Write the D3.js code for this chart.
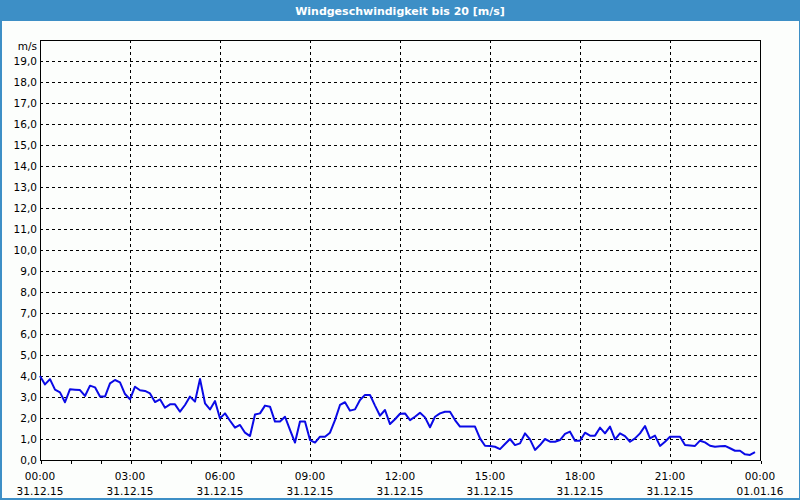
<!DOCTYPE html>
<html><head><meta charset="utf-8">
<script src="https://cdn.jsdelivr.net/npm/d3@7"></script>
<style>
html,body{margin:0;padding:0;background:#fcfefc;}
svg{display:block;}
text{font-family:"DejaVu Sans","Liberation Sans",sans-serif;}
</style></head>
<body>
<script>
const title = "Windgeschwindigkeit bis 20 [m/s]";
const unitLabel = "m/s";
const startTime = "2015-12-31T00:00:00";
const endTime = "2016-01-01T00:00:00";
const stepMinutes = 10;
// wind speed, m/s, every 10 minutes from 31.12.15 00:00
const speeds = [
 4.0,3.6,3.85,3.35,3.22,2.75,3.37,3.35,3.33,3.05,3.54,3.46,
 3.02,3.02,3.65,3.81,3.70,3.14,2.89,3.49,3.32,3.29,3.17,2.76,
 2.89,2.49,2.65,2.65,2.30,2.62,3.02,2.78,3.86,2.70,2.41,2.81,
 1.98,2.22,1.87,1.54,1.67,1.30,1.14,2.17,2.22,2.59,2.54,1.83,
 1.83,2.06,1.43,0.83,1.83,1.83,0.95,0.83,1.11,1.11,1.30,1.90,
 2.62,2.75,2.35,2.41,2.86,3.10,3.10,2.59,2.11,2.38,1.71,1.94,
 2.20,2.22,1.90,2.06,2.25,2.03,1.56,2.06,2.22,2.30,2.30,1.90,
 1.59,1.59,1.59,1.59,1.03,0.68,0.67,0.63,0.52,0.76,1.0,0.71,
 0.79,1.27,0.98,0.48,0.71,1.0,0.87,0.87,0.95,1.24,1.35,0.92,
 0.92,1.30,1.16,1.16,1.54,1.27,1.59,0.98,1.27,1.14,0.87,1.03,
 1.27,1.62,1.03,1.16,0.67,0.87,1.11,1.11,1.11,0.71,0.69,0.67,
 0.92,0.84,0.68,0.63,0.65,0.67,0.56,0.44,0.44,0.27,0.24,0.37
];
const yTicks = [0,1,2,3,4,5,6,7,8,9,10,11,12,13,14,15,16,17,18,19];
const xTickHours = [0,3,6,9,12,15,18,21,24];

const W = 800, H = 500;
const m = {left:40, right:40, top:40, bottom:40};
const svg = d3.select("body").append("svg").attr("width",W).attr("height",H);

svg.append("rect").attr("x",0).attr("y",0).attr("width",W).attr("height",H).attr("fill","#fcfefc");
// title bar
svg.append("rect").attr("x",0).attr("y",0).attr("width",W).attr("height",21).attr("fill","#3d8fc6");
svg.append("text").attr("x",W/2).attr("y",15).attr("text-anchor","middle")
  .attr("fill","#ffffff").attr("font-size","11px").attr("font-weight","bold")
  .attr("font-family","'Liberation Sans',sans-serif").text(title);
// frame border
svg.append("rect").attr("x",0.5).attr("y",0.5).attr("width",W-1).attr("height",H-1)
  .attr("fill","none").attr("stroke","#3d8fc6").attr("stroke-width",1);
svg.append("line").attr("x1",1.5).attr("x2",1.5).attr("y1",0).attr("y2",H).attr("stroke","#3d8fc6");
svg.append("line").attr("x1",0).attr("x2",W).attr("y1",H-1.5).attr("y2",H-1.5).attr("stroke","#3d8fc6");

const t0 = new Date(startTime), t1 = new Date(endTime);
const x = d3.scaleTime().domain([t0,t1]).range([m.left, W-m.right]);
const y = d3.scaleLinear().domain([0,20]).range([H-m.bottom, m.top]);

const data = speeds.map((v,i)=>({t:new Date(t0.getTime()+i*stepMinutes*60000), v}));
const g = svg.append("g");

// horizontal grid
g.selectAll("line.hg").data(yTicks.filter(d=>d>0)).join("line")
  .attr("x1",m.left).attr("x2",W-m.right)
  .attr("y1",d=>Math.round(y(d))+0.5).attr("y2",d=>Math.round(y(d))+0.5)
  .attr("stroke","#000").attr("stroke-dasharray","3,3").attr("shape-rendering","crispEdges");
// vertical grid
const xTickDates = xTickHours.map(h=>new Date(t0.getTime()+h*3600000));
g.selectAll("line.vg").data(xTickDates.slice(1,-1)).join("line")
  .attr("x1",d=>Math.round(x(d))+0.5).attr("x2",d=>Math.round(x(d))+0.5)
  .attr("y1",m.top).attr("y2",H-m.bottom)
  .attr("stroke","#000").attr("stroke-dasharray","3,3").attr("shape-rendering","crispEdges");

// plot frame
svg.append("rect").attr("x",m.left+0.5).attr("y",m.top+0.5)
  .attr("width",W-m.left-m.right).attr("height",H-m.top-m.bottom)
  .attr("fill","none").attr("stroke","#000").attr("shape-rendering","crispEdges");

// x axis hourly ticks
const xAxis = d3.axisBottom(x).ticks(d3.timeHour.every(1)).tickSize(3).tickFormat("");
const xa = svg.append("g").attr("transform",`translate(0.5,${H-m.bottom+0.5})`).call(xAxis);
xa.select(".domain").remove();
xa.selectAll("line").attr("stroke","#000").attr("shape-rendering","crispEdges");

// x labels
const fmtT = d3.timeFormat("%H:%M"), fmtD = d3.timeFormat("%d.%m.%y");
const xl = svg.append("g").attr("font-size","10.5px").attr("fill","#000").attr("text-anchor","middle");
xl.selectAll("text.a").data(xTickDates).join("text").attr("x",d=>x(d)).attr("y",480).text(d=>fmtT(d));
xl.selectAll("text.b").data(xTickDates).join("text").attr("x",d=>x(d)).attr("y",495).text(d=>fmtD(d));

// y labels
const fmtY = v=>d3.format(".1f")(v).replace(".",",");
const yl = svg.append("g").attr("font-size","10.5px").attr("fill","#000").attr("text-anchor","end");
yl.selectAll("text").data(yTicks).join("text").attr("x",37).attr("y",d=>y(d)+4).text(d=>fmtY(d));
svg.append("text").attr("x",37).attr("y",50).attr("text-anchor","end").attr("font-size","10.5px").text(unitLabel);

// line
const line = d3.line().x(d=>x(d.t)).y(d=>y(d.v));
svg.append("path").datum(data).attr("d",line).attr("fill","none")
  .attr("stroke","#0a0ae6").attr("stroke-width",2).attr("stroke-linejoin","round");
</script>
</body></html>
